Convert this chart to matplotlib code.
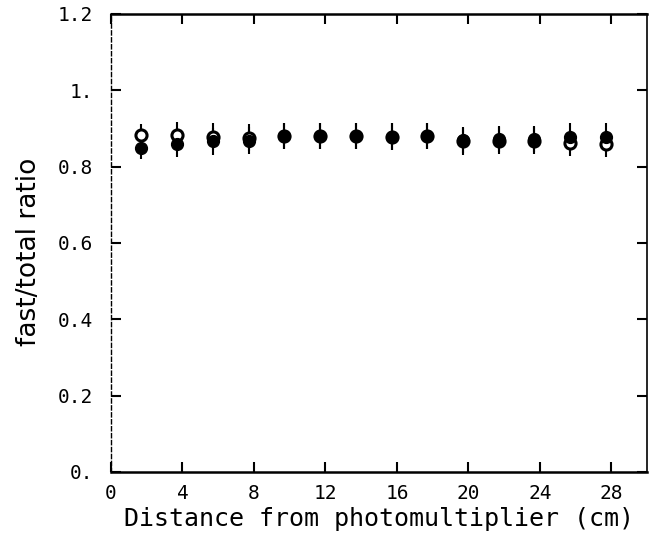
import matplotlib.pyplot as plt

# distance from the photomultiplier (cm)
distance = [1.7, 3.7, 5.7, 7.7, 9.7, 11.7, 13.7, 15.7, 17.7, 19.7, 21.7, 23.7, 25.7, 27.7]

# fast/total ratio, filled and open points
ratio_filled = [0.850, 0.860, 0.866, 0.868, 0.880, 0.880, 0.880, 0.878, 0.880, 0.870, 0.872, 0.872, 0.878, 0.878]
ratio_open = [0.882, 0.882, 0.878, 0.876, 0.880, 0.880, 0.880, 0.878, 0.880, 0.866, 0.868, 0.868, 0.862, 0.860]
err_filled = [0.030, 0.035, 0.035, 0.035, 0.035, 0.035, 0.035, 0.035, 0.035, 0.035, 0.035, 0.035, 0.035, 0.035]
err_open = [0.030, 0.035, 0.035, 0.035, 0.035, 0.035, 0.035, 0.035, 0.035, 0.035, 0.035, 0.035, 0.035, 0.035]

xticks = [0, 4, 8, 12, 16, 20, 24, 28]
yticks = [0, 0.2, 0.4, 0.6, 0.8, 1.0, 1.2]
ytick_labels = ['0.', '0.2', '0.4', '0.6', '0.8', '1.', '1.2']

plt.rcParams['font.family'] = ['DejaVu Sans Mono', 'DejaVu Sans']

fig = plt.figure(figsize=(6.49, 5.38), dpi=100)
ax = fig.add_axes([0.171, 0.123, 0.826, 0.851])

ax.errorbar(distance, ratio_open, yerr=err_open, fmt='o', color='black',
            mfc='white', mec='black', mew=2.2, ms=8, elinewidth=1.5, capsize=0)
ax.errorbar(distance, ratio_filled, yerr=err_filled, fmt='o', color='black',
            ms=8.5, elinewidth=1.5, capsize=0)

ax.set_xlim(0, 30)
ax.set_ylim(0, 1.2)
ax.set_xticks(xticks)
ax.set_yticks(yticks)
ax.set_yticklabels(ytick_labels)

ax.tick_params(direction='in', length=7, width=1.5, top=True, right=True,
               labelsize=14)
ax.tick_params(axis='x', pad=9)
ax.tick_params(axis='y', pad=13)

ax.spines['top'].set_linewidth(1.8)
ax.spines['bottom'].set_linewidth(1.8)
ax.spines['left'].set_linewidth(1.0)
ax.spines['left'].set_linestyle((0, (3, 2)))
ax.spines['right'].set_linewidth(1.2)

ax.set_xlabel('Distance from photomultiplier (cm)', fontsize=18, labelpad=3)
ax.set_ylabel('fast/total ratio', fontsize=19, family='DejaVu Sans')
ax.yaxis.set_label_coords(-0.128, 0.48)

fig.savefig('out.png', dpi=100)
